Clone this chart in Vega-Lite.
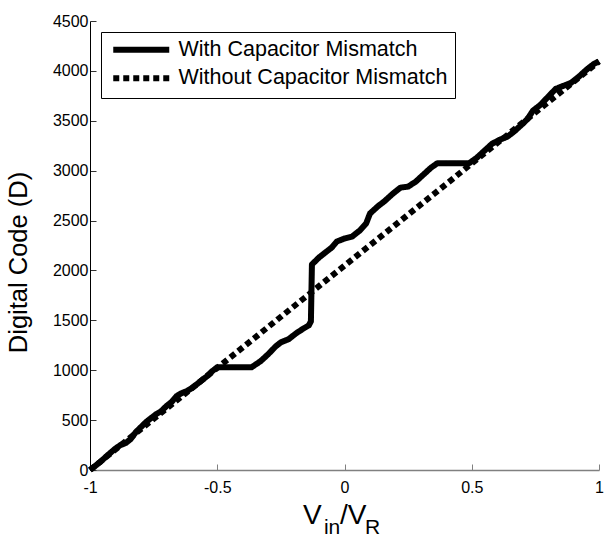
{
  "$schema": "https://vega.github.io/schema/vega-lite/v6.json",
  "width": 509,
  "height": 449,
  "autosize": "none",
  "padding": {"left": 90, "top": 21, "right": 6, "bottom": 69},
  "background": "white",
  "config": {
    "view": {"stroke": null},
    "font": "Liberation Sans",
    "legend": {
      "orient": "top-left",
      "offset": 11,
      "padding": 7,
      "strokeColor": "black",
      "fillColor": "white",
      "labelFont": "Liberation Sans",
      "labelFontSize": 21.5,
      "labelColor": "black",
      "labelLimit": 500,
      "symbolStrokeWidth": 6,
      "symbolStrokeColor": "black",
      "symbolType": "M-4,0H4",
      "symbolSize": 196,
      "symbolOffset": 22.5,
      "labelOffset": 26.5,
      "rowPadding": 3.5,
      "titlePadding": 0
    }
  },
  "layer": [
    {
      "data": {
        "values": [
          {"x": -1.0, "y": 0, "series": "With Capacitor Mismatch"},
          {"x": -0.96, "y": 80, "series": "With Capacitor Mismatch"},
          {"x": -0.93, "y": 150, "series": "With Capacitor Mismatch"},
          {"x": -0.9, "y": 215, "series": "With Capacitor Mismatch"},
          {"x": -0.88, "y": 250, "series": "With Capacitor Mismatch"},
          {"x": -0.86, "y": 270, "series": "With Capacitor Mismatch"},
          {"x": -0.84, "y": 310, "series": "With Capacitor Mismatch"},
          {"x": -0.82, "y": 380, "series": "With Capacitor Mismatch"},
          {"x": -0.8, "y": 430, "series": "With Capacitor Mismatch"},
          {"x": -0.78, "y": 480, "series": "With Capacitor Mismatch"},
          {"x": -0.76, "y": 520, "series": "With Capacitor Mismatch"},
          {"x": -0.74, "y": 560, "series": "With Capacitor Mismatch"},
          {"x": -0.72, "y": 590, "series": "With Capacitor Mismatch"},
          {"x": -0.7, "y": 640, "series": "With Capacitor Mismatch"},
          {"x": -0.68, "y": 680, "series": "With Capacitor Mismatch"},
          {"x": -0.66, "y": 740, "series": "With Capacitor Mismatch"},
          {"x": -0.64, "y": 770, "series": "With Capacitor Mismatch"},
          {"x": -0.62, "y": 790, "series": "With Capacitor Mismatch"},
          {"x": -0.6, "y": 820, "series": "With Capacitor Mismatch"},
          {"x": -0.57, "y": 880, "series": "With Capacitor Mismatch"},
          {"x": -0.54, "y": 940, "series": "With Capacitor Mismatch"},
          {"x": -0.52, "y": 990, "series": "With Capacitor Mismatch"},
          {"x": -0.5, "y": 1030, "series": "With Capacitor Mismatch"},
          {"x": -0.365, "y": 1030, "series": "With Capacitor Mismatch"},
          {"x": -0.33, "y": 1090, "series": "With Capacitor Mismatch"},
          {"x": -0.3, "y": 1160, "series": "With Capacitor Mismatch"},
          {"x": -0.27, "y": 1240, "series": "With Capacitor Mismatch"},
          {"x": -0.25, "y": 1280, "series": "With Capacitor Mismatch"},
          {"x": -0.22, "y": 1310, "series": "With Capacitor Mismatch"},
          {"x": -0.19, "y": 1370, "series": "With Capacitor Mismatch"},
          {"x": -0.16, "y": 1420, "series": "With Capacitor Mismatch"},
          {"x": -0.14, "y": 1450, "series": "With Capacitor Mismatch"},
          {"x": -0.132, "y": 1490, "series": "With Capacitor Mismatch"},
          {"x": -0.128, "y": 2060, "series": "With Capacitor Mismatch"},
          {"x": -0.1, "y": 2130, "series": "With Capacitor Mismatch"},
          {"x": -0.07, "y": 2190, "series": "With Capacitor Mismatch"},
          {"x": -0.05, "y": 2230, "series": "With Capacitor Mismatch"},
          {"x": -0.03, "y": 2290, "series": "With Capacitor Mismatch"},
          {"x": 0.0, "y": 2320, "series": "With Capacitor Mismatch"},
          {"x": 0.03, "y": 2340, "series": "With Capacitor Mismatch"},
          {"x": 0.06, "y": 2400, "series": "With Capacitor Mismatch"},
          {"x": 0.085, "y": 2470, "series": "With Capacitor Mismatch"},
          {"x": 0.1, "y": 2570, "series": "With Capacitor Mismatch"},
          {"x": 0.13, "y": 2640, "series": "With Capacitor Mismatch"},
          {"x": 0.16, "y": 2700, "series": "With Capacitor Mismatch"},
          {"x": 0.19, "y": 2770, "series": "With Capacitor Mismatch"},
          {"x": 0.22, "y": 2830, "series": "With Capacitor Mismatch"},
          {"x": 0.25, "y": 2840, "series": "With Capacitor Mismatch"},
          {"x": 0.28, "y": 2890, "series": "With Capacitor Mismatch"},
          {"x": 0.31, "y": 2960, "series": "With Capacitor Mismatch"},
          {"x": 0.34, "y": 3030, "series": "With Capacitor Mismatch"},
          {"x": 0.365, "y": 3075, "series": "With Capacitor Mismatch"},
          {"x": 0.49, "y": 3075, "series": "With Capacitor Mismatch"},
          {"x": 0.52, "y": 3130, "series": "With Capacitor Mismatch"},
          {"x": 0.55, "y": 3200, "series": "With Capacitor Mismatch"},
          {"x": 0.58, "y": 3270, "series": "With Capacitor Mismatch"},
          {"x": 0.61, "y": 3310, "series": "With Capacitor Mismatch"},
          {"x": 0.64, "y": 3340, "series": "With Capacitor Mismatch"},
          {"x": 0.67, "y": 3400, "series": "With Capacitor Mismatch"},
          {"x": 0.7, "y": 3470, "series": "With Capacitor Mismatch"},
          {"x": 0.72, "y": 3520, "series": "With Capacitor Mismatch"},
          {"x": 0.74, "y": 3600, "series": "With Capacitor Mismatch"},
          {"x": 0.77, "y": 3660, "series": "With Capacitor Mismatch"},
          {"x": 0.8, "y": 3740, "series": "With Capacitor Mismatch"},
          {"x": 0.83, "y": 3820, "series": "With Capacitor Mismatch"},
          {"x": 0.86, "y": 3850, "series": "With Capacitor Mismatch"},
          {"x": 0.89, "y": 3880, "series": "With Capacitor Mismatch"},
          {"x": 0.92, "y": 3940, "series": "With Capacitor Mismatch"},
          {"x": 0.95, "y": 4010, "series": "With Capacitor Mismatch"},
          {"x": 0.98, "y": 4070, "series": "With Capacitor Mismatch"},
          {"x": 1.0, "y": 4095, "series": "With Capacitor Mismatch"},
          {"x": -1.0, "y": 0, "series": "Without Capacitor Mismatch"},
          {"x": 1.0, "y": 4095, "series": "Without Capacitor Mismatch"}
        ]
      },
      "mark": {"type": "line", "strokeWidth": 6, "color": "black", "strokeCap": "butt", "strokeJoin": "round"},
      "encoding": {
        "x": {
          "field": "x", "type": "quantitative", "title": null,
          "scale": {"domain": [-1, 1], "nice": false},
          "axis": {
            "title": null,
            "values": [-1, -0.5, 0, 0.5, 1],
            "format": "~g",
            "labelExpr": "replace(datum.label, '\u2212', '-')",
            "grid": false,
            "domainColor": "#808080",
            "domainWidth": 1.5,
            "tickColor": "#808080",
            "tickSize": -6,
            "tickWidth": 1,
            "labelFont": "Liberation Sans",
            "labelFontSize": 16,
            "labelColor": "black",
            "labelPadding": 15,
            "labelFlush": false
          }
        },
        "y": {
          "field": "y", "type": "quantitative", "title": "Digital Code (D)",
          "scale": {"domain": [0, 4500], "nice": false},
          "axis": {
            "title": "Digital Code (D)",
            "titleFont": "Liberation Sans",
            "titleFontSize": 25.5,
            "titleFontWeight": "normal",
            "titleColor": "black",
            "titlePadding": 21,
            "titleY": 241,
            "values": [0, 500, 1000, 1500, 2000, 2500, 3000, 3500, 4000, 4500],
            "format": "d",
            "grid": false,
            "domainColor": "black",
            "tickColor": "#333333",
            "tickSize": -6,
            "labelFont": "Liberation Sans",
            "labelFontSize": 16,
            "labelColor": "black",
            "labelPadding": 8,
            "labelFlush": false
          }
        },
        "strokeDash": {
          "field": "series", "type": "nominal",
          "scale": {"domain": ["With Capacitor Mismatch", "Without Capacitor Mismatch"], "range": [[1, 0], [6, 4]]},
          "legend": {"title": null}
        }
      }
    },
    {
      "data": {"values": [{}]},
      "mark": {"type": "text", "text": "V", "font": "Liberation Sans", "fontSize": 28, "align": "left", "baseline": "alphabetic", "color": "black"},
      "encoding": {"x": {"datum": -0.163, "type": "quantitative"}, "y": {"datum": -544, "type": "quantitative"}}
    },
    {
      "data": {"values": [{}]},
      "mark": {"type": "text", "text": "in", "font": "Liberation Sans", "fontSize": 21, "align": "left", "baseline": "alphabetic", "color": "black"},
      "encoding": {"x": {"datum": -0.081, "type": "quantitative"}, "y": {"datum": -644, "type": "quantitative"}}
    },
    {
      "data": {"values": [{}]},
      "mark": {"type": "text", "text": "/V", "font": "Liberation Sans", "fontSize": 28, "align": "left", "baseline": "alphabetic", "color": "black"},
      "encoding": {"x": {"datum": -0.018, "type": "quantitative"}, "y": {"datum": -544, "type": "quantitative"}}
    },
    {
      "data": {"values": [{}]},
      "mark": {"type": "text", "text": "R", "font": "Liberation Sans", "fontSize": 21, "align": "left", "baseline": "alphabetic", "color": "black"},
      "encoding": {"x": {"datum": 0.081, "type": "quantitative"}, "y": {"datum": -644, "type": "quantitative"}}
    }
  ]
}
